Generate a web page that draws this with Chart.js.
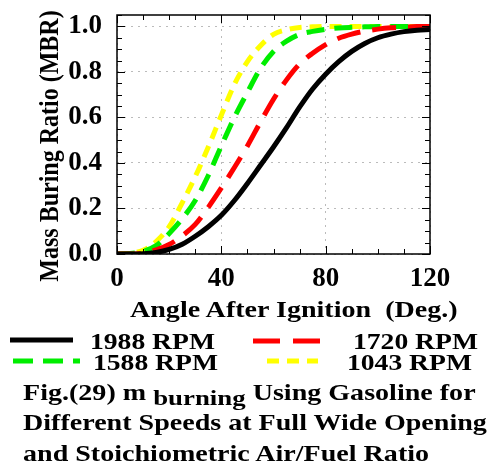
<!DOCTYPE html>
<html>
<head>
<meta charset="utf-8">
<script src="https://cdn.jsdelivr.net/npm/chart.js@4"></script>
<style>
  body { margin: 0; background: #fff; }
  #wrap { position: relative; width: 492px; height: 466px; overflow: hidden; }
  #c { position: absolute; left: 0; top: 0; }
  svg { position: absolute; left: 0; top: 0; }
  .t {
    position: absolute;
    font-family: "Liberation Serif", "Times New Roman", serif;
    font-weight: bold;
    white-space: nowrap;
    line-height: 1;
    transform-origin: 0 0;
    transform: scaleX(1.15);
    color: #000;
  }
  .cap { font-size: 23px; transform: scaleX(1.22); }
  #xtitle { left: 130px; top: 298px; font-size: 23px; transform: scaleX(1.22); }
  #ytitle {
    left: -101px; top: 134px; width: 300px; height: 24px; line-height: 24px;
    font-size: 24px; text-align: center;
    transform-origin: 50% 50%; transform: rotate(-90deg) scaleY(1.15);
  }
</style>
</head>
<body>
<div id="wrap">
  <canvas id="c" width="492" height="466"></canvas>
  <svg width="492" height="466">
    <line x1="10" y1="340" x2="73" y2="340" stroke="#000" stroke-width="5"/>
    <line x1="253" y1="341" x2="320" y2="341" stroke="#ff0000" stroke-width="5" stroke-dasharray="27 13"/>
    <line x1="13" y1="361" x2="80" y2="361" stroke="#00ee00" stroke-width="5" stroke-dasharray="20 10"/>
    <line x1="267" y1="361" x2="318" y2="361" stroke="#ffff00" stroke-width="5" stroke-dasharray="12 8"/>
  </svg>
  <div class="t" id="ytitle">Mass Buring Ratio (MBR)</div>
  <div class="t" id="xtitle">Angle After Ignition&nbsp; (Deg.)</div>
  <div class="t" id="lg0" style="left:90px;top:329px;font-size:24px"></div>
  <div class="t" id="lg1" style="left:353px;top:329px;font-size:24px"></div>
  <div class="t" id="lg2" style="left:93px;top:350px;font-size:24px"></div>
  <div class="t" id="lg3" style="left:347px;top:350px;font-size:24px"></div>
  <div class="t cap" style="left:23px;top:381px">Fig.(29) m <span style="font-size:22px;vertical-align:-5px">burning</span> Using Gasoline for</div>
  <div class="t cap" style="left:23px;top:411px">Different Speeds at Full Wide Opening</div>
  <div class="t cap" style="left:23px;top:442px">and Stoichiometric Air/Fuel Ratio</div>
</div>
<script>
// angle after ignition (deg)
const angles = [0, 5, 10, 15, 20, 25, 30, 35, 40, 45, 50, 55, 60, 65, 70, 75, 80, 85, 90, 95, 100, 105, 110, 115, 120];
const speeds = ["1988 RPM", "1720 RPM", "1588 RPM", "1043 RPM"];
const mbr1988 = [0, 0, 0.001, 0.007, 0.02, 0.043, 0.078, 0.12, 0.17, 0.235, 0.31, 0.39, 0.47, 0.555, 0.645, 0.725, 0.79, 0.845, 0.89, 0.925, 0.95, 0.966, 0.977, 0.983, 0.986];
const mbr1720 = [0, 0, 0.004, 0.018, 0.042, 0.08, 0.13, 0.205, 0.29, 0.38, 0.475, 0.58, 0.68, 0.765, 0.835, 0.882, 0.92, 0.948, 0.966, 0.979, 0.988, 0.994, 0.997, 0.999, 1.0];
const mbr1588 = [0, 0.002, 0.012, 0.037, 0.09, 0.155, 0.235, 0.345, 0.475, 0.6, 0.71, 0.815, 0.89, 0.935, 0.965, 0.978, 0.987, 0.993, 0.996, 0.998, 0.999, 1, 1, 1, 1];
const mbr1043 = [0, 0.003, 0.016, 0.055, 0.12, 0.225, 0.34, 0.47, 0.61, 0.745, 0.845, 0.915, 0.965, 0.985, 0.995, 0.998, 1, 1, 1, 1, 1, 1, 1, 1, 1];

const serif = "'Liberation Serif', 'Times New Roman', serif";
const pts = (vals) => angles.map((a, i) => ({ x: a, y: vals[i] }));

speeds.forEach((s, i) => { document.getElementById("lg" + i).textContent = s; });

// frame + inward ticks on all four sides
const frameTicks = {
  id: "frameTicks",
  afterDraw(chart) {
    const { ctx, chartArea: a, scales } = chart;
    const xs = scales.x, ys = scales.y;
    ctx.save();
    ctx.strokeStyle = "#000";
    ctx.lineWidth = 1.5;
    ctx.strokeRect(a.left, a.top, a.right - a.left, a.bottom - a.top);
    ctx.lineWidth = 1;
    ctx.beginPath();
    for (let i = 0; i <= 21; i++) {
      const y = Math.round(ys.getPixelForValue(i * 0.05)) + 0.5;
      const len = i % 4 === 0 ? 8 : 5;
      ctx.moveTo(a.left, y); ctx.lineTo(a.left + len, y);
      ctx.moveTo(a.right, y); ctx.lineTo(a.right - len, y);
    }
    for (let i = 0; i <= 12; i++) {
      const x = Math.round(xs.getPixelForValue(i * 10)) + 0.5;
      const len = i % 4 === 0 ? 8 : 5;
      ctx.moveTo(x, a.bottom); ctx.lineTo(x, a.bottom - len);
      ctx.moveTo(x, a.top); ctx.lineTo(x, a.top + len);
    }
    ctx.stroke();
    ctx.restore();
  }
};

new Chart(document.getElementById("c"), {
  type: "line",
  data: {
    datasets: [
      { label: speeds[0], data: pts(mbr1988), borderColor: "#000", borderWidth: 5 },
      { label: speeds[1], data: pts(mbr1720), borderColor: "#ff0000", borderWidth: 5, borderDash: [24, 12] },
      { label: speeds[2], data: pts(mbr1588), borderColor: "#00ee00", borderWidth: 5, borderDash: [18, 10] },
      { label: speeds[3], data: pts(mbr1043), borderColor: "#ffff00", borderWidth: 5, borderDash: [12, 8] }
    ]
  },
  options: {
    responsive: false,
    animation: false,
    events: [],
    layout: { padding: { left: 33, right: 62, top: 15, bottom: 142 } },
    elements: {
      point: { radius: 0 },
      line: { cubicInterpolationMode: "monotone", borderCapStyle: "butt", fill: false }
    },
    plugins: { legend: { display: false }, tooltip: { enabled: false } },
    scales: {
      x: {
        type: "linear",
        min: 0,
        max: 120,
        afterFit: (s) => { s.height = 70; s.paddingLeft = 0; s.paddingRight = 0; },
        ticks: { stepSize: 40, color: "#000", padding: 9, font: { family: serif, size: 27, weight: "bold" } },
        grid: { color: "#bbbbbb", drawTicks: false },
        border: { display: false, dash: [2, 5] },
        title: { display: false }
      },
      y: {
        min: 0,
        max: 1.05,
        afterFit: (s) => { s.width = 84; s.paddingTop = 0; s.paddingBottom = 0; },
        ticks: {
          stepSize: 0.2,
          includeBounds: false,
          color: "#000",
          padding: 15,
          font: { family: serif, size: 27, weight: "bold" },
          callback: (v) => v.toFixed(1)
        },
        grid: { color: "#bbbbbb", drawTicks: false },
        border: { display: false, dash: [2, 5] },
        title: { display: false }
      }
    }
  },
  plugins: [frameTicks]
});
</script>
</body>
</html>
